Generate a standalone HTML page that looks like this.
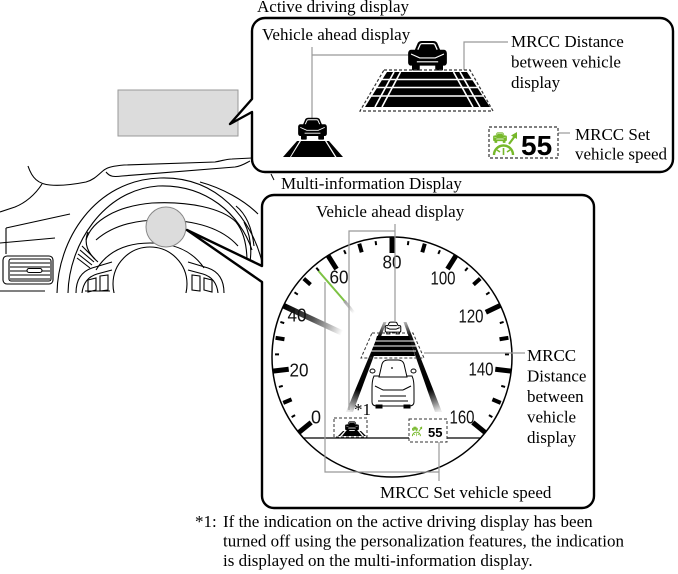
<!DOCTYPE html>
<html><head><meta charset="utf-8">
<style>
html,body{margin:0;padding:0;background:#fff;}
svg{display:block;}
.t{font-family:"Liberation Serif",serif;font-size:17px;fill:#000;}
.n{font-family:"Liberation Sans Narrow","Liberation Sans",sans-serif;font-size:18px;fill:#111;}
</style></head><body>
<svg width="678" height="574" viewBox="0 0 678 574" xmlns="http://www.w3.org/2000/svg">
<defs>
 <symbol id="carB" viewBox="0 0 40 32">
  <path d="M7,10 L10,3 C11,1.5 12.5,1 14,1 L26,1 C27.5,1 29,1.5 30,3 L33,10 L37,10 C39,10 40,12 40,14 L40,23 C40,25 39,26.5 37,26.5 L3,26.5 C1,26.5 0,25 0,23 L0,14 C0,12 1,10 3,10 Z"/>
  <rect x="4" y="25" width="8" height="6.5" rx="1"/>
  <rect x="28" y="25" width="8" height="6.5" rx="1"/>
  <path d="M10,10 L12.5,4.5 C13,4 13.5,3.8 14.5,3.8 L25.5,3.8 C26.5,3.8 27,4 27.5,4.5 L30,10" fill="none" stroke="#fff" stroke-width="1.3"/>
  <path d="M3,14.5 L12,18.5 L28,18.5 L37,14.5 M9,22.5 L31,22.5" fill="none" stroke="#fff" stroke-width="1.1"/>
 </symbol>
 <symbol id="carW" viewBox="-2 -2 44 36">
  <path d="M7,10 L10,3 C11,1.5 12.5,1 14,1 L26,1 C27.5,1 29,1.5 30,3 L33,10 L37,10 C39,10 40,12 40,14 L40,23 C40,25 39,26.5 37,26.5 L3,26.5 C1,26.5 0,25 0,23 L0,14 C0,12 1,10 3,10 Z M4,26.5 V31 H12 V26.5 M28,26.5 V31 H36 V26.5 M10,10 H30 M3,15 L12,19 H28 L37,15" fill="#fff" stroke="#000" stroke-width="2.6"/>
 </symbol>
 <g id="gic">
  <use href="#carB" x="0" y="1" width="14" height="11" fill="#76b82a"/>
  <path d="M1,24 A9.5,9.5 0 0 1 20,24" fill="none" stroke="#76b82a" stroke-width="2.4"/>
  <path d="M10.5,24 L10.5,17 M4,19 L7,21 M17,19 L14,21" fill="none" stroke="#76b82a" stroke-width="1.6"/>
  <path d="M16,13 L22,5" fill="none" stroke="#76b82a" stroke-width="2.2"/>
  <polygon points="24,1 24,8 18,4.5" fill="#76b82a"/>
 </g>
 <line id="tM" x1="392" y1="237" x2="392" y2="253" stroke="#000" stroke-width="5"/>
 <line id="tm" x1="392" y1="239" x2="392" y2="248" stroke="#000" stroke-width="4"/>
 <line id="ts" x1="392" y1="240" x2="392" y2="244" stroke="#000" stroke-width="2"/>
 <linearGradient id="g40" gradientUnits="userSpaceOnUse" x1="284" y1="306" x2="342" y2="333">
  <stop offset="0" stop-color="#000"/><stop offset="0.5" stop-color="#555"/><stop offset="1" stop-color="#fff"/>
 </linearGradient>
 <linearGradient id="ggr" gradientUnits="userSpaceOnUse" x1="344" y1="301" x2="354" y2="313">
  <stop offset="0" stop-color="#999"/><stop offset="1" stop-color="#fff"/>
 </linearGradient>
 <linearGradient id="rl" gradientUnits="userSpaceOnUse" x1="349" y1="412" x2="385" y2="322">
  <stop offset="0" stop-color="#eee"/><stop offset="0.1" stop-color="#888"/><stop offset="0.25" stop-color="#000"/><stop offset="0.85" stop-color="#111"/><stop offset="1" stop-color="#bbb"/>
 </linearGradient>
 <linearGradient id="rr" gradientUnits="userSpaceOnUse" x1="438" y1="412" x2="404" y2="322">
  <stop offset="0" stop-color="#eee"/><stop offset="0.1" stop-color="#888"/><stop offset="0.25" stop-color="#000"/><stop offset="0.85" stop-color="#111"/><stop offset="1" stop-color="#bbb"/>
 </linearGradient>
 <clipPath id="dc"><rect x="0" y="150" width="262" height="143"/></clipPath>
</defs>

<!-- Dashboard line art -->
<g clip-path="url(#dc)" fill="none" stroke="#000" stroke-width="1.1">
 <path d="M28,166 C32,178 38,184 50,185 C62,186 76,184 86,182 C94,180 99,174 104,170 C108,167 114,166 124,165 L215,162 C222,161 226,159 232,159 L252,158"/>
 <path d="M106,172 C110,177 114,177 122,176 C160,173 200,170 235,167 C242,166 246,163 250,161"/>
 <path d="M42,184 C35,195 25,203 15,207 L0,212"/>
 <path d="M6,228 L70,214"/>
 <path d="M0,243 L55,238"/>
 <path d="M6,228 L6,254"/>
 <path d="M57,295 C57,240 95,180 160,178 C218,176 252,220 262,262"/>
 <path d="M68,293 C69,245 103,190 158,186 C206,184 240,214 252,250"/>
 <path d="M86,240 C92,220 118,206 152,203 C188,201 222,208 236,222 C244,232 247,245 247,262"/>
 <path d="M88,232 C84,242 86,252 98,262"/>
 <path d="M96,240 C112,226 135,220 160,220 C195,220 222,228 238,246"/>
 <path d="M80,250 L94,262 M78,254 L92,265 M82,246 L95,259 M77,258 L90,268"/>
 <circle cx="150" cy="284" r="37"/>
 <path d="M96,270 C108,250 128,243 150,243 C172,243 192,250 204,268"/>
 <path d="M76,293 C76,282 80,272 92,268 L112,262"/>
 <path d="M82,293 C83,284 87,277 97,274 L112,270"/>
 <path d="M88,280 L96,278 L96,290 L88,292 Z M100,276 L108,275 L108,290 L100,291 Z"/>
 <path d="M224,293 C224,282 220,272 208,268 L188,262"/>
 <path d="M218,293 C217,284 213,277 203,274 L188,270"/>
 <path d="M212,280 L204,278 L204,290 L212,292 Z M200,276 L192,275 L192,290 L200,291 Z"/>
 <rect x="3" y="256" width="50" height="28" rx="4"/>
 <rect x="9" y="259" width="42" height="22" rx="2"/>
 <path d="M10,263 H50 M10,267 H50 M10,271 H50 M10,275 H50 M10,279 H50"/>
 <rect x="27" y="268.5" width="15" height="4" rx="2" fill="#fff"/>
 <path d="M200,182 C222,188 244,200 258,214"/>
 <path d="M236,206 C246,214 252,228 254,246"/>
 <path d="M244,222 C250,234 252,248 250,262"/>
 <path d="M0,291 H45 M85,291 H110"/>
</g>
<line x1="271" y1="174" x2="274" y2="180" stroke="#000" stroke-width="1"/>

<!-- Gray highlights -->
<rect x="118" y="90" width="120" height="46" fill="#dcdcdc" stroke="#999" stroke-width="1"/>
<circle cx="166" cy="227" r="20" fill="#dcdcdc" stroke="#888" stroke-width="1"/>

<!-- Boxes -->
<path d="M265,18 H660 A13,13 0 0 1 673,31 V159 A13,13 0 0 1 660,172 H265 A13,13 0 0 1 252,159 V112 L230,124 L252,99 V31 A13,13 0 0 1 265,18 Z" fill="#fff" stroke="#000" stroke-width="2.4" stroke-linejoin="round"/>
<path d="M274,195 H582 A12,12 0 0 1 594,207 V496 A12,12 0 0 1 582,508 H274 A12,12 0 0 1 262,496 V282 L187,230 L262,266 V207 A12,12 0 0 1 274,195 Z" fill="#fff" stroke="#000" stroke-width="2.4" stroke-linejoin="round"/>

<!-- Labels outside -->
<text class="t" x="257" y="12">Active driving display</text>
<text class="t" x="281" y="189">Multi-information Display</text>

<!-- Top box content -->
<text class="t" x="262" y="40">Vehicle ahead display</text>
<g fill="none" stroke="#999" stroke-width="1.2">
 <path d="M312,47 V118 M312,55 H410"/>
 <path d="M464,70 V42 H508"/>
 <path d="M558,133 H570"/>
</g>
<use href="#carB" x="408" y="40" width="39" height="31" fill="#000"/>
<polygon points="387,72 467,72 490,107 365,107" fill="#000"/>
<g stroke="#fff" stroke-width="1.6">
 <line x1="360" y1="79.5" x2="495" y2="79.5"/>
 <line x1="360" y1="87.5" x2="495" y2="87.5"/>
 <line x1="360" y1="96" x2="495" y2="96"/>
 <line x1="394" y1="72" x2="375" y2="107"/>
 <line x1="400.5" y1="72" x2="382" y2="107"/>
 <line x1="460" y1="72" x2="480" y2="107"/>
 <line x1="453.5" y1="72" x2="473" y2="107"/>
</g>
<polygon points="384,70 470,70 493,111 360,111" fill="none" stroke="#333" stroke-width="1.2" stroke-dasharray="3 2"/>

<use href="#carB" x="298" y="117" width="29" height="23" fill="#000"/>
<polygon points="301,141 325,141 335,157 291,157" fill="#000"/>
<polygon points="297,141 299.5,141 290,157 283,157" fill="#000"/>
<polygon points="326.5,141 329,141 343,157 336.5,157" fill="#000"/>

<rect x="489" y="127" width="69" height="31" fill="#fff" stroke="#333" stroke-width="1.2" stroke-dasharray="3 2"/>
<use href="#gic" transform="translate(493,131)"/>
<text x="521" y="155" font-family="'Liberation Sans',sans-serif" font-weight="bold" font-size="28" fill="#000">55</text>
<text class="t" x="511" y="47">MRCC Distance</text>
<text class="t" x="511" y="67.5">between vehicle</text>
<text class="t" x="511" y="88">display</text>
<text class="t" x="575" y="140">MRCC Set</text>
<text class="t" x="575" y="159.5">vehicle speed</text>

<!-- Lower box content -->
<circle cx="392" cy="357" r="120" fill="none" stroke="#000" stroke-width="1.5"/>
<line x1="303" y1="438" x2="481" y2="438" stroke="#000" stroke-width="1.2"/>
<g>
 <use href="#tM" transform="rotate(-129 392 357)"/>
 <use href="#ts" transform="rotate(-120.94 392 357)"/>
 <use href="#tm" transform="rotate(-112.88 392 357)"/>
 <use href="#ts" transform="rotate(-104.81 392 357)"/>
 <use href="#tM" transform="rotate(-96.75 392 357)"/>
 <use href="#ts" transform="rotate(-88.69 392 357)"/>
 <use href="#tm" transform="rotate(-80.63 392 357)"/>
 <use href="#ts" transform="rotate(-72.56 392 357)"/>
 <use href="#tM" transform="rotate(-64.5 392 357)"/>
 <use href="#ts" transform="rotate(-56.44 392 357)"/>
 <use href="#tm" transform="rotate(-48.38 392 357)"/>
 <use href="#ts" transform="rotate(-40.31 392 357)"/>
 <use href="#tM" transform="rotate(-32.25 392 357)"/>
 <use href="#ts" transform="rotate(-24.19 392 357)"/>
 <use href="#tm" transform="rotate(-16.13 392 357)"/>
 <use href="#ts" transform="rotate(-8.06 392 357)"/>
 <use href="#tM"/>
 <use href="#ts" transform="rotate(8.06 392 357)"/>
 <use href="#tm" transform="rotate(16.13 392 357)"/>
 <use href="#ts" transform="rotate(24.19 392 357)"/>
 <use href="#tM" transform="rotate(32.25 392 357)"/>
 <use href="#ts" transform="rotate(40.31 392 357)"/>
 <use href="#tm" transform="rotate(48.38 392 357)"/>
 <use href="#ts" transform="rotate(56.44 392 357)"/>
 <use href="#tM" transform="rotate(64.5 392 357)"/>
 <use href="#ts" transform="rotate(72.56 392 357)"/>
 <use href="#tm" transform="rotate(80.63 392 357)"/>
 <use href="#ts" transform="rotate(88.69 392 357)"/>
 <use href="#tM" transform="rotate(96.75 392 357)"/>
 <use href="#ts" transform="rotate(104.81 392 357)"/>
 <use href="#tm" transform="rotate(112.88 392 357)"/>
 <use href="#ts" transform="rotate(120.94 392 357)"/>
 <use href="#tM" transform="rotate(129 392 357)"/>
</g>
<line x1="284" y1="306" x2="342" y2="333" stroke="url(#g40)" stroke-width="5.5"/>
<line x1="318.5" y1="271" x2="344.5" y2="301" stroke="#7cc242" stroke-width="2"/>
<line x1="344.5" y1="301" x2="354" y2="313" stroke="url(#ggr)" stroke-width="3"/>

<g text-anchor="middle" class="n">
 <text x="392" y="268.5" textLength="19" lengthAdjust="spacingAndGlyphs">80</text>
 <text x="339" y="283.5" textLength="19" lengthAdjust="spacingAndGlyphs">60</text>
 <text x="443" y="284.5" textLength="25" lengthAdjust="spacingAndGlyphs">100</text>
 <text x="297" y="321.5" textLength="19" lengthAdjust="spacingAndGlyphs">40</text>
 <text x="471" y="322.5" textLength="25" lengthAdjust="spacingAndGlyphs">120</text>
 <text x="299" y="376.5" textLength="19" lengthAdjust="spacingAndGlyphs">20</text>
 <text x="481" y="375.5" textLength="25" lengthAdjust="spacingAndGlyphs">140</text>
 <text x="316" y="423.5">0</text>
 <text x="462" y="423.5" textLength="25" lengthAdjust="spacingAndGlyphs">160</text>
</g>

<!-- road lines -->
<polygon points="346,412 353,412 386.5,322 383.5,322" fill="url(#rl)"/>
<polygon points="435,412 442,412 406.5,322 403.5,322" fill="url(#rr)"/>

<!-- distance bars -->
<polygon points="377,336 409,336 415,356 371,356" fill="#000"/>
<g stroke="#fff" stroke-width="1">
 <line x1="370" y1="341" x2="416" y2="341"/>
 <line x1="370" y1="346" x2="416" y2="346"/>
 <line x1="370" y1="351" x2="416" y2="351"/>
</g>
<polygon points="372,333 413,333 424,358 361,358" fill="none" stroke="#333" stroke-width="1" stroke-dasharray="3 2"/>

<use href="#carW" x="384" y="321" width="18" height="14"/>

<!-- own car -->
<g fill="#fff" stroke="#000" stroke-width="1">
 <path d="M374,376 C372,380 372,385 372,392 L372,402 C372,405 374,406 377,406 L409,406 C412,406 414,405 414,402 L414,392 C414,385 414,380 412,376 Z"/>
 <path d="M379,377 L382,364 C383,361 385,360 388,360 L398,360 C401,360 403,361 404,364 L407,377 Z"/>
 <ellipse cx="372.5" cy="371" rx="2.5" ry="2"/>
 <ellipse cx="413.5" cy="371" rx="2.5" ry="2"/>
 <path d="M375,386 L383,390 M411,386 L403,390 M383,390 H403 M380,396 H406 M378,401 H408" fill="none"/>
 <rect x="376" y="405" width="6" height="3" fill="#000"/>
 <rect x="404" y="405" width="6" height="3" fill="#000"/>
</g>
<circle cx="392" cy="368" r="0.9" fill="#000"/>

<!-- *1 box -->
<rect x="334" y="418" width="33" height="19" fill="#fff" stroke="#333" stroke-width="1" stroke-dasharray="3 2"/>
<use href="#carB" x="345" y="421" width="14" height="11" fill="#000"/>
<polygon points="346,431 358,431 362,436 342,436" fill="#000"/>
<polygon points="343,431 344.5,431 340,436 338,436" fill="#000"/>
<polygon points="359.5,431 361,431 366,436 364,436" fill="#000"/>
<text class="t" x="354" y="415">*1</text>

<!-- 55 box -->
<rect x="409" y="419" width="38" height="23" fill="#fff" stroke="#333" stroke-width="1" stroke-dasharray="3 2"/>
<use href="#gic" transform="translate(412,426) scale(0.42)"/>
<text x="428" y="437" font-family="'Liberation Sans',sans-serif" font-weight="bold" font-size="13" fill="#000">55</text>

<!-- callouts lower -->
<g fill="none" stroke="#999" stroke-width="1.2">
 <path d="M349,410 V231 H395"/>
 <path d="M395,224 V321"/>
 <path d="M325,282 V472 H439"/>
 <path d="M439,442 V481"/>
 <path d="M424,353 H525"/>
</g>

<text class="t" x="316" y="217">Vehicle ahead display</text>
<text class="t" x="527" y="361">MRCC</text>
<text class="t" x="527" y="381.5">Distance</text>
<text class="t" x="527" y="402">between</text>
<text class="t" x="527" y="422.5">vehicle</text>
<text class="t" x="527" y="443">display</text>
<text class="t" x="380" y="498">MRCC Set vehicle speed</text>

<!-- footnote -->
<text class="t" x="195" y="527">*1:</text>
<text class="t" x="223" y="527">If the indication on the active driving display has been</text>
<text class="t" x="223" y="546.5">turned off using the personalization features, the indication</text>
<text class="t" x="223" y="566">is displayed on the multi-information display.</text>
</svg>
</body></html>
